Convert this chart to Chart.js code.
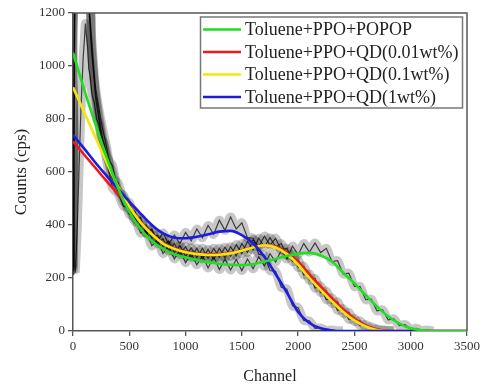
<!DOCTYPE html>
<html><head><meta charset="utf-8">
<script src="https://cdn.jsdelivr.net/npm/chart.js@4.4.0/dist/chart.umd.min.js"></script>
<style>html,body{margin:0;padding:0;background:#fff;}</style>
</head><body>
<canvas id="c" width="481" height="387"></canvas>
<script>
// ---- Data ----
const xTickValues = [0,500,1000,1500,2000,2500,3000,3500];
const yTickValues = [0,200,400,600,800,1000,1200];

const seriesNames = ['Toluene+PPO+POPOP','Toluene+PPO+QD(0.01wt%)','Toluene+PPO+QD(0.1wt%)','Toluene+PPO+QD(1wt%)'];

// fitted curves (channel step 100)
const fitChannels = [0,100,200,300,400,500,600,700,800,900,1000,1100,1200,1300,1400,1500,1600,1700,1800,1900,2000,2100,2200,2300,2400,2500,2600,2700,2800,2900,3000,3100,3200,3300,3400,3500];
const fitGreen  = [1050,910,780,655,540,450,385,340,310,290,278,268,260,254,250,249,252,262,272,283,292,295,285,262,220,180,135,92,55,28,10,3,0,0,0,0];
const fitRed    = [715,665,615,565,518,468,412,366,332,312,299,292,289,290,295,304,315,322,318,296,262,214,168,124,82,47,21,7,1,0,0,0,0,0,0,0];
const fitYellow = [920,825,730,635,545,470,410,365,330,310,297,290,287,288,293,303,315,323,315,290,250,200,155,112,72,40,17,4,0,0,0,0,0,0,0,0];
const fitBlue   = [740,688,635,585,537,488,443,400,368,352,350,356,365,375,378,362,330,280,215,145,72,30,10,2,0,0,0,0,0,0,0,0,0,0,0,0];

// measured spectra (noisy), low-channel part
const spikeGreenX = [20,30,40,50,60,70,80,90,100,110,120,130,140,150,170,190,210,230,250,275,300,325];
const spikeGreenY = [220,310,420,560,700,830,930,1030,1090,1160,1110,1070,990,970,890,860,800,780,730,710,665,640];
const lowX = [0,8,16,130,165,200,250,300];
const lowRedY    = [215,680,1300,1300,1080,880,740,660];
const lowYellowY = [240,720,1300,1300,1110,920,790,690];
const lowBlueY   = [230,640,1300,1300,1050,900,760,640];

// measured spectra, channel step 50 from 350
const measChannels = [350,400,450,500,550,600,650,700,750,800,850,900,950,1000,1050,1100,1150,1200,1250,1300,1350,1400,1450,1500,1550,1600,1650,1700,1750,1800,1850,1900,1950,2000,2050,2100,2150,2200,2250,2300,2350,2400,2450,2500,2550,2600,2650,2700,2750,2800,2850,2900,2950,3000,3050,3100,3150,3200,3250,3300];
const measGreen  = [625,530,505,440,430,370,378,322,345,292,322,272,305,258,292,250,284,238,280,232,272,230,270,228,272,235,280,245,292,260,305,272,320,288,330,298,332,296,312,262,265,215,218,168,168,118,120,76,80,42,46,20,24,6,10,2,4,0];
const measRed    = [600,528,512,455,452,395,400,350,362,318,340,296,322,282,314,276,312,274,312,278,316,282,326,292,338,306,350,318,352,318,330,285,290,240,244,192,198,145,150,104,110,66,70,36,38,14,16,4,5,0,1];
const measYellow = [575,560,488,485,422,428,370,382,330,348,302,330,288,318,278,312,272,308,270,312,276,318,284,330,296,345,318,358,325,350,305,312,262,268,212,215,162,170,118,125,78,84,44,48,20,24,6,8,1,3,0];
const measBlue   = [540,518,470,465,412,418,368,385,340,370,328,362,330,372,340,385,352,398,365,418,380,430,385,408,352,350,290,285,228,225,165,158,95,88,40,38,10,12,2,4,0,1];

const fitColors = ['#22dd22','#f01818','#f5e60a','#1c1ce0'];

// ---- Build ----
const pts = (xs, ys) => ys.map((y, i) => ({x: xs[i], y: y}));
const FONT = "'Liberation Serif','Times New Roman',serif";

const measSets = [
  pts(spikeGreenX.concat(measChannels), spikeGreenY.concat(measGreen)),
  pts(lowX.concat(measChannels), lowRedY.concat(measRed)),
  pts(lowX.concat(measChannels), lowYellowY.concat(measYellow)),
  pts(lowX.concat(measChannels), lowBlueY.concat(measBlue))
];

const datasets = [
  {label:seriesNames[0], data:pts(fitChannels, fitGreen),  borderColor:fitColors[0], borderWidth:2.6, pointRadius:0, cubicInterpolationMode:'monotone', order:1},
  {label:seriesNames[1], data:pts(fitChannels, fitRed),    borderColor:fitColors[1], borderWidth:2.6, pointRadius:0, cubicInterpolationMode:'monotone', order:4},
  {label:seriesNames[2], data:pts(fitChannels, fitYellow), borderColor:fitColors[2], borderWidth:2.6, pointRadius:0, cubicInterpolationMode:'monotone', order:3},
  {label:seriesNames[3], data:pts(fitChannels, fitBlue),   borderColor:fitColors[3], borderWidth:2.6, pointRadius:0, cubicInterpolationMode:'monotone', order:2}
];
measSets.forEach((d, i) => {
  datasets.push({label:'band'+i, data:d, borderColor:'rgba(0,0,0,0.22)', borderWidth:9, pointRadius:0, tension:0.35, order:20});
  datasets.push({label:'meas'+i, data:d, borderColor:'rgba(0,0,0,0.7)', borderWidth:1.2, pointRadius:0, tension:0, order:15});
});

const framePlugin = {
  id:'frame',
  afterDraw(chart){
    const a = chart.chartArea, c = chart.ctx;
    c.save();
    c.strokeStyle = '#555'; c.lineWidth = 1.5;
    c.beginPath();
    c.moveTo(a.left, a.top); c.lineTo(a.right, a.top); c.lineTo(a.right, a.bottom);
    c.stroke();
    c.restore();
  }
};

const legendPlugin = {
  id:'boxLegend',
  afterDatasetsDraw(chart){
    const c = chart.ctx;
    c.save();
    c.fillStyle = '#fff';
    c.fillRect(200.5, 17, 262, 91);
    c.strokeStyle = '#777'; c.lineWidth = 1.5;
    c.strokeRect(200.5, 17, 262, 91);
    c.font = '18px ' + FONT;
    c.textBaseline = 'middle';
    seriesNames.forEach((name, i) => {
      const y = 29.5 + i * 22.5;
      c.strokeStyle = fitColors[i]; c.lineWidth = 2.5;
      c.beginPath(); c.moveTo(203, y); c.lineTo(241, y); c.stroke();
      c.fillStyle = '#222';
      c.fillText(name, 245, y + 1);
    });
    c.restore();
  }
};

new Chart(document.getElementById('c'), {
  type:'line',
  data:{datasets:datasets},
  options:{
    responsive:false, animation:false,
    layout:{padding:{left:0, right:14, top:13, bottom:0}},
    plugins:{legend:{display:false}, tooltip:{enabled:false}},
    scales:{
      x:{
        type:'linear', min:0, max:3500,
        afterBuildTicks:(ax)=>{ ax.ticks = xTickValues.map(v=>({value:v})); },
        ticks:{font:{family:FONT, size:13}, color:'#333', padding:3, maxRotation:0, autoSkip:false, callback:(v)=>String(v)},
        grid:{drawOnChartArea:false, tickLength:5, color:'#555', lineWidth:1.3},
        border:{color:'#555', width:1.5},
        title:{display:true, text:'Channel', font:{family:FONT, size:16}, color:'#222', padding:{top:0, bottom:1}},
        afterFit:(s)=>{ s.height = 56; s.paddingLeft = 0; s.paddingRight = 0; }
      },
      y:{
        min:0, max:1200,
        afterBuildTicks:(ax)=>{ ax.ticks = yTickValues.map(v=>({value:v})); },
        ticks:{font:{family:FONT, size:13}, color:'#333', padding:3, autoSkip:false, callback:(v)=>String(v)},
        grid:{drawOnChartArea:false, tickLength:5, color:'#555', lineWidth:1.3},
        border:{color:'#555', width:1.5},
        title:{display:true, text:'Counts (cps)', font:{family:FONT, size:17}, color:'#222', padding:{top:11, bottom:0}},
        afterFit:(s)=>{ s.width = 73; s.paddingTop = 0; s.paddingBottom = 0; }
      }
    }
  },
  plugins:[framePlugin, legendPlugin]
});
</script>
</body></html>
